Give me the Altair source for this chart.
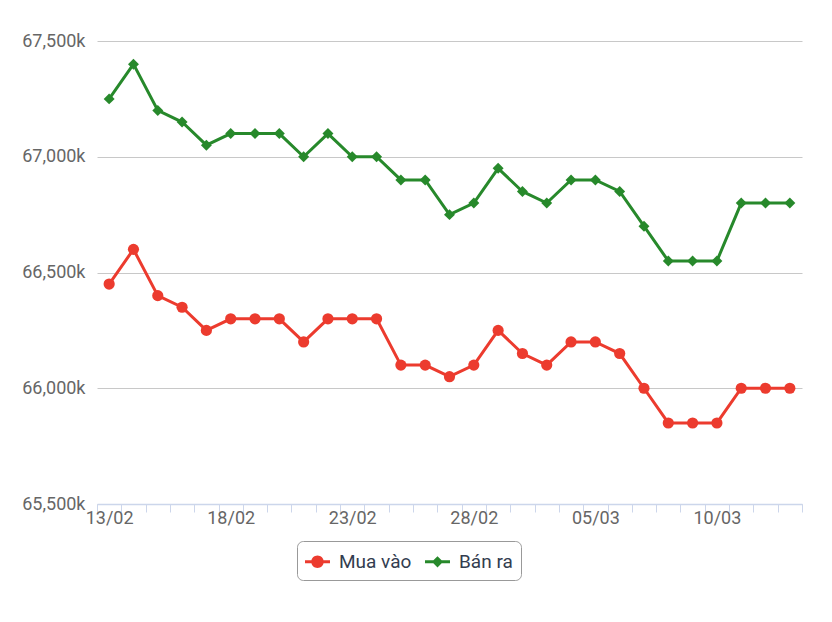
import altair as alt
import pandas as pd

dates = ["13/02", "14/02", "15/02", "16/02", "17/02", "18/02", "19/02", "20/02",
         "21/02", "22/02", "23/02", "24/02", "25/02", "26/02", "27/02", "28/02",
         "01/03", "02/03", "03/03", "04/03", "05/03", "06/03", "07/03", "08/03",
         "09/03", "10/03", "11/03", "12/03", "13/03"]
buy = [66450, 66600, 66400, 66350, 66250, 66300, 66300, 66300, 66200, 66300,
       66300, 66300, 66100, 66100, 66050, 66100, 66250, 66150, 66100, 66200,
       66200, 66150, 66000, 65850, 65850, 65850, 66000, 66000, 66000]
sell = [67250, 67400, 67200, 67150, 67050, 67100, 67100, 67100, 67000, 67100,
        67000, 67000, 66900, 66900, 66750, 66800, 66950, 66850, 66800, 66900,
        66900, 66850, 66700, 66550, 66550, 66550, 66800, 66800, 66800]
series = ["Mua vào", "Bán ra"]
label_dates = ["13/02", "18/02", "23/02", "28/02", "05/03", "10/03"]
y_ticks = [65500, 66000, 66500, 67000, 67500]
colors = ["#ec3b2e", "#27892b"]

df = pd.DataFrame({
    "date": dates * 2,
    "value": buy + sell,
    "series": [series[0]] * len(dates) + [series[1]] * len(dates),
})

label_list = ",".join("'" + d + "'" for d in label_dates)
x_enc = alt.X(
    "date:O", sort=dates,
    scale=alt.Scale(type="band", paddingInner=0, paddingOuter=0),
    axis=alt.Axis(
        title=None, labelAngle=0, tickBand="extent",
        labelExpr="indexof([" + label_list + "], datum.value) >= 0 ? datum.label : ''",
        labelOverlap=False, domainColor="#ccd6eb", tickColor="#ccd6eb",
        tickSize=8, labelPadding=-3, labelFontSize=18, labelColor="#666666",
        labelFont="Roboto", grid=False, domainWidth=1.5, tickWidth=1,
    ),
)
y_enc = alt.Y(
    "value:Q",
    scale=alt.Scale(domain=[y_ticks[0], y_ticks[-1]], nice=False, zero=False),
    axis=alt.Axis(
        title=None, values=y_ticks,
        labelExpr="format(datum.value, ',') + 'k'",
        grid=True, gridColor="#c8c8c8", gridWidth=1, domain=False, ticks=False,
        labelPadding=12, labelFontSize=18, labelColor="#666666", labelFont="Roboto",
    ),
)

base = alt.Chart(df)

layers = []
shapes_plot = ["circle", "diamond"]
sizes_plot = [125, 120]
for s, c, sh, sz in zip(series, colors, shapes_plot, sizes_plot):
    sub = base.transform_filter(alt.datum.series == s)
    layers.append(sub.mark_line(color=c, strokeWidth=3).encode(x=x_enc, y=y_enc))
    layers.append(sub.mark_point(color=c, filled=True, opacity=1, shape=sh, size=sz)
                  .encode(x=x_enc, y=y_enc))

path_circle = "M-1,-0.12H1V0.12H-1Z M0.5,0A0.5,0.5 0 1,1 -0.5,0A0.5,0.5 0 1,1 0.5,0Z"
path_diamond = "M-1,-0.12H1V0.12H-1Z M0,-0.45L0.45,0L0,0.45L-0.45,0Z"

legend = alt.Legend(
    title=None, orient="none", legendX=200, legendY=500, direction="horizontal",
    strokeColor="#999999", cornerRadius=6, padding=8, fillColor="white",
    symbolSize=625, symbolStrokeWidth=0, symbolOpacity=1,
    labelFontSize=19, labelColor="#333d4f", labelFont="Roboto",
    labelOffset=9, columnPadding=13,
)
legend_layer = base.transform_filter("false").mark_point(filled=True, opacity=1).encode(
    color=alt.Color("series:N", scale=alt.Scale(domain=series, range=colors), legend=legend),
    shape=alt.Shape("series:N", scale=alt.Scale(domain=series, range=[path_circle, path_diamond]),
                    legend=legend),
)
layers.append(legend_layer)

chart = alt.layer(*layers).properties(
    width=705, height=463,
    autosize=alt.AutoSizeParams(type="none"),
    padding={"left": 97, "top": 41, "right": 30, "bottom": 118},
).configure(background="white").configure_view(strokeWidth=0, stroke="transparent")

chart.save("out.html", embed_options={"renderer": "svg", "actions": False})
